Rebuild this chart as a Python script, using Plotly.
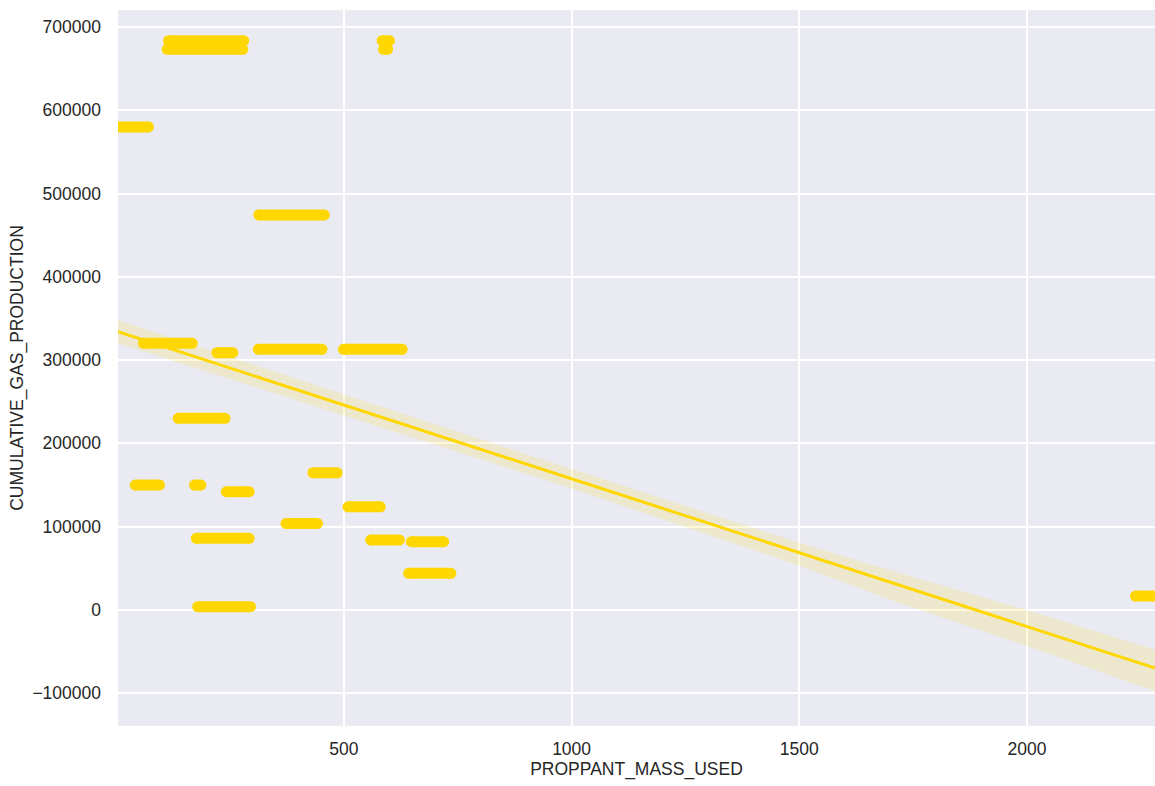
import plotly.graph_objects as go

# Horizontal runs of wells: each run shares one gas-production value and spans a
# range of proppant mass (start, end).
GAS_PRODUCTION = [683500, 673200, 683500, 673200, 580000, 474200, 320100, 308800,
                  312900, 312900, 230000, 164600, 149800, 149800, 141800, 123700,
                  103700, 85800, 83800, 81800, 43800, 3700, 16500]
MASS_START = [115, 112, 584, 587, 0, 313, 60, 221, 312, 499, 136, 432, 42, 172,
              242, 509, 373, 176, 559, 648, 642, 179, 2238]
MASS_END = [280, 278, 600, 596, 71, 457, 167, 256, 452, 628, 239, 485, 95, 186,
            292, 580, 442, 292, 622, 719, 735, 295, 2300]

# Fitted linear trend and its confidence band
TREND_X = [4, 2281]
TREND_Y = [334000, -70000]
BAND_X = [4, 500, 1000, 1500, 1720, 2000, 2281]
BAND_HI = [347800, 259000, 169000, 80500, 44100, -300, -48000]
BAND_LO = [320200, 233000, 145800, 53000, 8100, -43500, -98000]

X_TICKS = [500, 1000, 1500, 2000]
Y_TICKS = [-100000, 0, 100000, 200000, 300000, 400000, 500000, 600000, 700000]
Y_TICK_TEXT = ["−100000", "0", "100000", "200000", "300000", "400000",
               "500000", "600000", "700000"]

GOLD = "#FFD700"
BG = "#EAEAF2"
TEXT = "#262626"
FONT = "Arial, Liberation Sans, sans-serif"

fig = go.Figure()

# Runs drawn as thick strokes with round ends
xs, ys = [], []
for y, x0, x1 in zip(GAS_PRODUCTION, MASS_START, MASS_END):
    xs += [x0, x1, None]
    ys += [y, y, None]
fig.add_trace(go.Scatter(
    x=xs, y=ys, mode="lines+markers",
    line=dict(color=GOLD, width=11),
    marker=dict(color=GOLD, size=11, line=dict(width=0)),
    hoverinfo="skip", showlegend=False,
))

# Confidence band
fig.add_trace(go.Scatter(
    x=BAND_X + BAND_X[::-1], y=BAND_HI + BAND_LO[::-1],
    fill="toself", fillcolor="rgba(255,215,0,0.15)",
    line=dict(width=0), mode="lines", hoverinfo="skip", showlegend=False,
))

# Trend line
fig.add_trace(go.Scatter(
    x=TREND_X, y=TREND_Y, mode="lines",
    line=dict(color=GOLD, width=3), hoverinfo="skip", showlegend=False,
))

fig.update_layout(
    width=1155, height=786,
    margin=dict(l=118, r=0, t=10, b=60),
    paper_bgcolor="white", plot_bgcolor=BG,
    font=dict(family=FONT, size=17.5, color=TEXT),
    showlegend=False,
)
fig.update_xaxes(
    range=[4, 2281], tickvals=X_TICKS, ticks="", ticklabelstandoff=10,
    showgrid=True, gridcolor="white", gridwidth=1.6,
    zeroline=False, showline=False,
    title=dict(text="PROPPANT_MASS_USED", standoff=4,
               font=dict(family=FONT, size=17.5, color=TEXT)),
)
fig.update_yaxes(
    range=[-139600, 720400], tickvals=Y_TICKS, ticktext=Y_TICK_TEXT, ticks="",
    ticklabelstandoff=16,
    showgrid=True, gridcolor="white", gridwidth=1.6,
    zeroline=False, showline=False,
    title=dict(text="CUMULATIVE_GAS_PRODUCTION", standoff=4,
               font=dict(family=FONT, size=17.5, color=TEXT)),
)

fig.write_html("out.html")
